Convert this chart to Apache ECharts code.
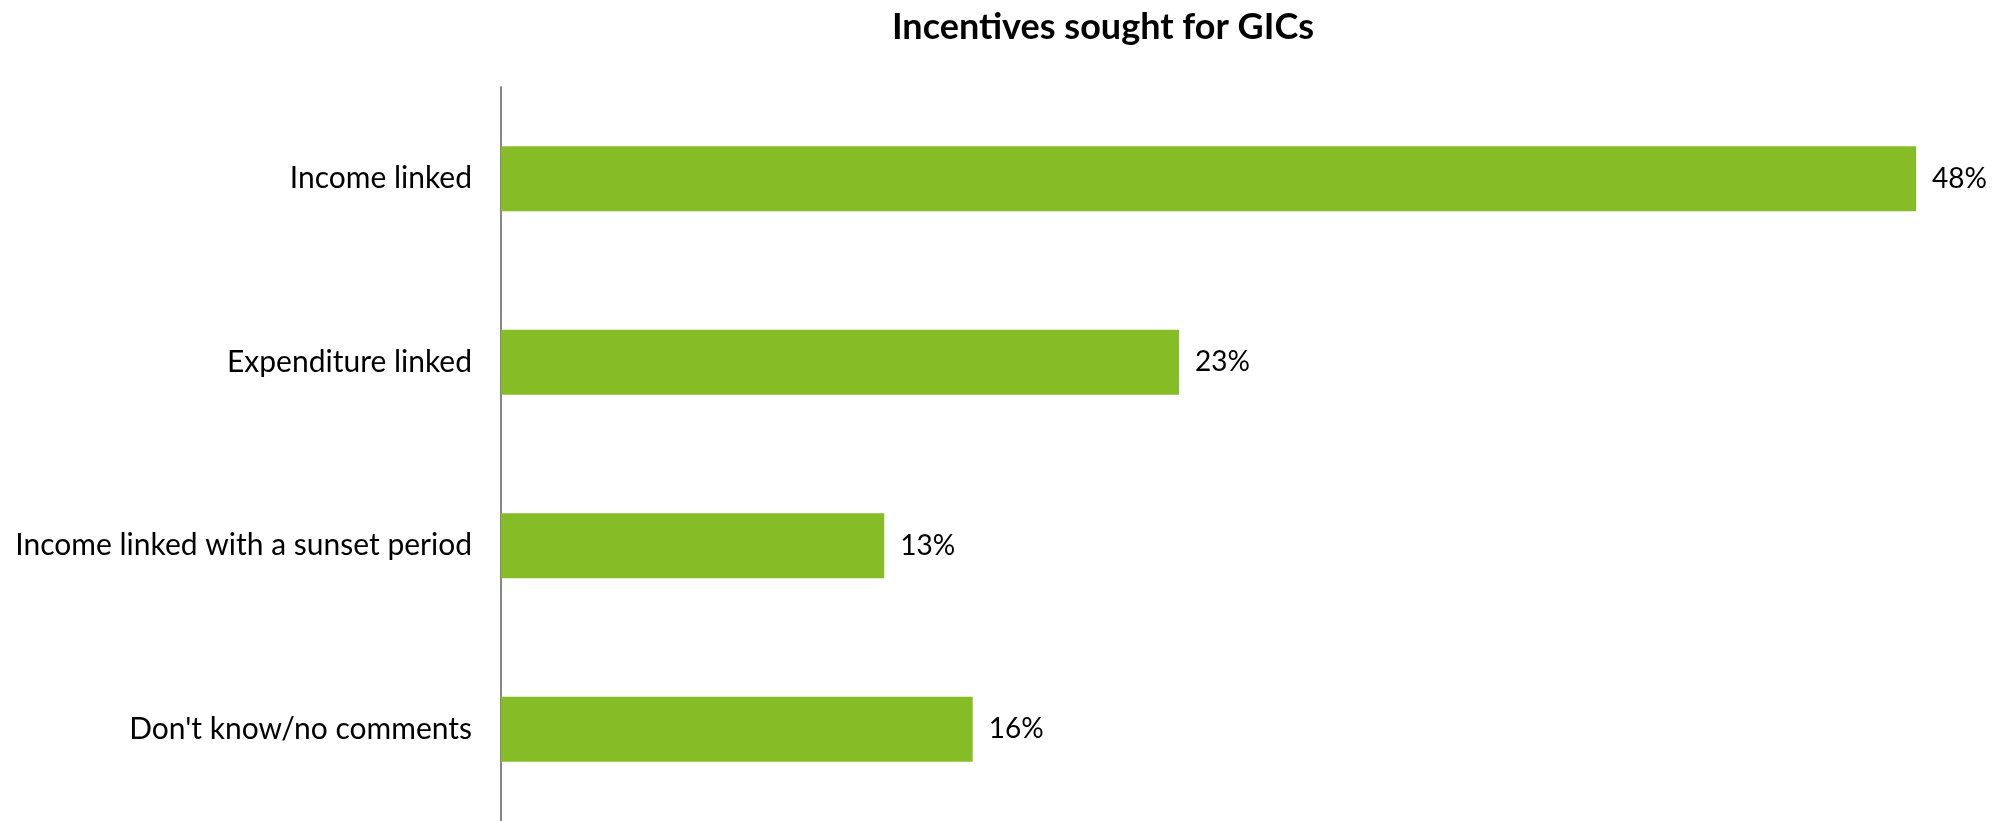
<!DOCTYPE html>
<html>
<head>
<meta charset="utf-8">
<title>Incentives sought for GICs</title>
<script src="https://cdn.jsdelivr.net/npm/echarts@6/dist/echarts.min.js"></script>
<style>
  html, body { margin: 0; padding: 0; background: #ffffff; }
  #chart { width: 2001px; height: 821px; }
</style>
</head>
<body>
<div id="chart"></div>
<script>
// Survey answers, top to bottom
const categories = [
  'Income linked',
  'Expenditure linked',
  'Income linked with a sunset period',
  "Don't know/no comments"
];
// Share of respondents, percent
const shares = [48, 23, 13, 16];

const FONT = 'Lato, "Liberation Sans", sans-serif';

const chart = echarts.init(document.getElementById('chart'), null, { renderer: 'canvas' });

chart.setOption({
  backgroundColor: '#ffffff',
  animation: false,
  title: {
    text: 'Incentives sought for GICs',
    left: 1098,
    textAlign: 'center',
    top: 4,
    textStyle: { fontFamily: FONT, fontWeight: 'bold', fontSize: 36, color: '#000000' }
  },
  grid: {
    left: 501,
    top: 87,
    width: 1474,
    height: 737,
    containLabel: false
  },
  xAxis: {
    type: 'value',
    min: 0,
    max: 50,
    show: false
  },
  yAxis: {
    type: 'category',
    inverse: true,
    data: categories,
    axisLine: { show: true, lineStyle: { color: '#868686', width: 2 } },
    axisTick: { show: false },
    axisLabel: {
      margin: 29,
      fontFamily: FONT,
      fontSize: 30,
      color: '#000000'
    },
    splitLine: { show: false }
  },
  series: [{
    type: 'bar',
    data: shares,
    barWidth: '35.3%',
    itemStyle: { color: '#86BC25' },
    label: {
      show: true,
      position: 'right',
      distance: 16,
      formatter: p => p.value + '%',
      fontFamily: FONT,
      fontSize: 28,
      color: '#000000'
    }
  }]
});
</script>
</body>
</html>
